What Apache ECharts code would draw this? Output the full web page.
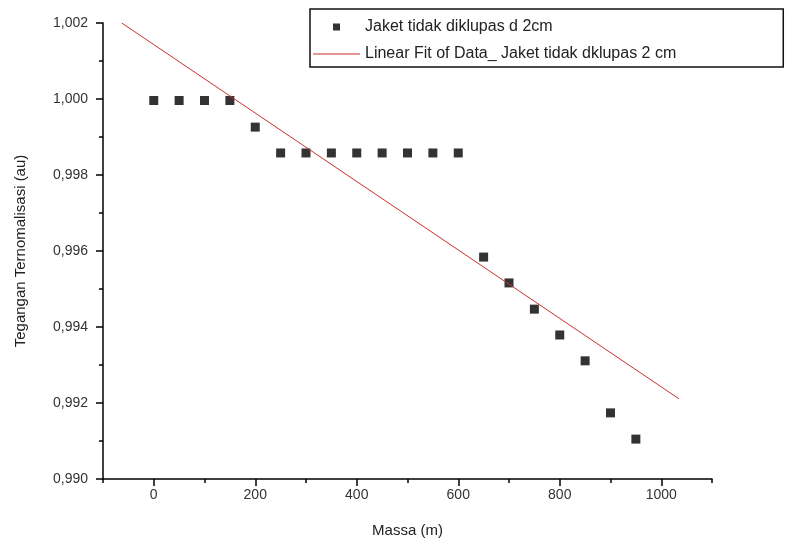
<!DOCTYPE html>
<html>
<head>
<meta charset="utf-8">
<script src="https://cdn.jsdelivr.net/npm/echarts@6/dist/echarts.min.js"></script>
<style>
  html, body { margin: 0; padding: 0; background: #fff; }
  #chart { width: 786px; height: 550px; }
</style>
</head>
<body>
<div id="chart"></div>
<script>
// data
var massa = [0, 50, 100, 150, 200, 250, 300, 350, 400, 450, 500, 550, 600, 650, 700, 750, 800, 850, 900, 950]
var tegangan = [0.99996, 0.99996, 0.99996, 0.99996, 0.99926, 0.99858, 0.99858, 0.99858, 0.99858, 0.99858,
  0.99858, 0.99858, 0.99858, 0.99584, 0.99516, 0.99447, 0.99379, 0.99311, 0.99174, 0.99105]
// ends of the linear fit line
var fitX = [-63, 1035]
var fitY = [1.002, 0.99211]
// tick positions
var xMajorTicks = [0, 200, 400, 600, 800, 1000]
var xMinorTicks = [-100, 100, 300, 500, 700, 900, 1100]

var namaData = 'Jaket tidak diklupas d 2cm'
var namaFit = 'Linear Fit of Data_ Jaket tidak dklupas 2 cm'

var font = 'Liberation Sans, Arial, sans-serif'
var warnaFit = '#cc2e2e'
var axisLine = { show: true, onZero: false, lineStyle: { color: '#000', width: 1.5 } }

var scatterData = massa.map(function (m, i) { return [m, tegangan[i]] })
var fitData = fitX.map(function (x, i) { return [x, fitY[i]] })

var myChart = echarts.init(document.getElementById('chart'))
var option = {
  animation: false,
  textStyle: { fontFamily: font },
  grid: { left: 103, right: 74, top: 23, bottom: 71 },
  legend: {
    orient: 'vertical',
    left: 310,
    top: 9,
    padding: [10, 107, 5, 3],
    itemWidth: 47,
    itemHeight: 7,
    itemGap: 11,
    borderColor: '#111',
    borderWidth: 1.5,
    textStyle: { fontFamily: font, fontSize: 16, color: '#222' },
    data: [
      { name: namaData, icon: 'path://M0,0h10v10h-10z' },
      { name: namaFit, icon: 'path://M0,0h47v1h-47z' }
    ]
  },
  xAxis: [
    {
      type: 'value',
      min: -100,
      max: 1100,
      name: 'Massa (m)',
      nameLocation: 'middle',
      nameGap: 44,
      nameTextStyle: { fontSize: 15, color: '#222' },
      axisLine: axisLine,
      axisTick: { show: true, length: 7, customValues: xMajorTicks, lineStyle: { color: '#000', width: 1.5 } },
      axisLabel: {
        customValues: xMajorTicks,
        margin: 9,
        fontSize: 14,
        color: '#333',
        formatter: function (v) { return String(v) }
      },
      splitLine: { show: false }
    },
    {
      type: 'value',
      min: -100,
      max: 1100,
      position: 'bottom',
      axisLine: { show: false, onZero: false },
      axisTick: { show: true, length: 4, customValues: xMinorTicks, lineStyle: { color: '#000', width: 1.5 } },
      axisLabel: { show: false },
      splitLine: { show: false }
    }
  ],
  yAxis: {
    type: 'value',
    min: 0.990,
    max: 1.002,
    interval: 0.002,
    name: 'Tegangan Ternomalisasi (au)',
    nameLocation: 'middle',
    nameGap: 75,
    nameTextStyle: { fontSize: 15, color: '#222' },
    axisLine: axisLine,
    axisTick: { show: true, length: 7, lineStyle: { color: '#000', width: 1.5 } },
    minorTick: { show: true, splitNumber: 2, length: 4, lineStyle: { color: '#000', width: 1.5 } },
    axisLabel: {
      margin: 15,
      fontSize: 14,
      color: '#333',
      formatter: function (v) { return v.toFixed(3).replace('.', ',') }
    },
    splitLine: { show: false }
  },
  series: [
    {
      name: namaData,
      type: 'scatter',
      symbol: 'rect',
      symbolSize: 9,
      itemStyle: { color: '#000' },
      data: scatterData
    },
    {
      name: namaFit,
      type: 'line',
      symbol: 'none',
      itemStyle: { color: warnaFit },
      lineStyle: { color: warnaFit, width: 1 },
      data: fitData
    }
  ]
}
myChart.setOption(option)
</script>
</body>
</html>
